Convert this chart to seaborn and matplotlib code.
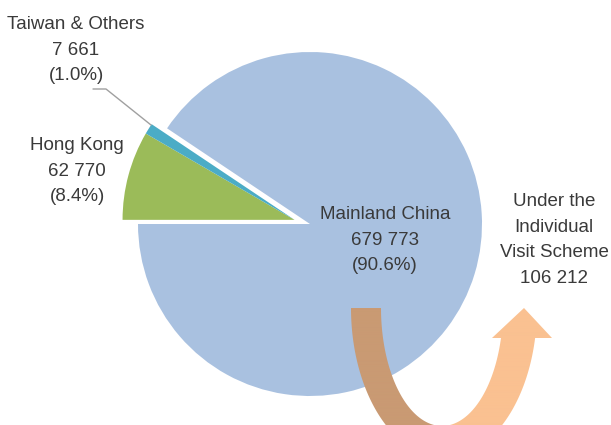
import matplotlib
matplotlib.use("Agg")
import matplotlib.pyplot as plt
import numpy as np
import seaborn as sns
from matplotlib.patches import Polygon
from matplotlib.colors import to_rgb

# dati: visitatori per provenienza
regioni = ["Hong Kong", "Taiwan & Others", "Mainland China"]
visitatori = [62770, 7661, 679773]
colori = ["#9BBB59", "#4BACC6", "#A9C1E0"]
ivs_testo = "Under the\nIndividual\nVisit Scheme"
ivs_valore = 106212

sns.set_theme(style="white")
plt.rcParams["font.family"] = ["Liberation Sans", "DejaVu Sans"]

W, H = 611, 425
CX, CY, R = 310, 224, 172  # centro e raggio della torta in pixel


def px(x, y):
    # da pixel (y verso il basso) a coordinate dati della torta
    return (np.asarray(x) - CX) / R, (CY - np.asarray(y)) / R


fig = plt.figure(figsize=(W / 100, H / 100), dpi=100)
ax = fig.add_axes([0, 0, 1, 1])

totale = sum(visitatori)
wedges, _ = ax.pie(visitatori, colors=colori, startangle=180, counterclock=False,
                   explode=[0.093, 0.093, 0], radius=1,
                   wedgeprops=dict(linewidth=0))
# Taiwan si sposta insieme a Hong Kong
wedges[1].set_center(wedges[0].center)

x0, y0 = px(0, H)
x1, y1 = px(W, 0)
ax.set_xlim(x0, x1)
ax.set_ylim(y0, y1)
ax.set_aspect("equal")
ax.axis("off")


def fmt(v):
    return f"{v:,}".replace(",", " ")


txt = dict(ha="center", va="center", fontsize=13.5, color="#3A3A3A", linespacing=1.62)
pos_label = {"Hong Kong": (77, 171), "Taiwan & Others": (76, 50), "Mainland China": (385, 240)}
for nome, v in zip(regioni, visitatori):
    etichetta = f"{nome}\n{fmt(v)}\n({100 * v / totale:.1f}%)"
    ax.text(*px(*pos_label[nome]), etichetta, **txt)

ax.text(*px(554, 240), f"{ivs_testo}\n{fmt(ivs_valore)}", fontsize=13.5, color="#3A3A3A",
        linespacing=1.68, ha="center", va="center")

# linea guida per Taiwan
lx, ly = px([93, 106, 151], [89, 89, 125])
ax.plot(lx, ly, color="#A0A0A0", lw=1)

# freccia curva (decorazione)
ao, bo, cxo = 93, 150, 444
ai, bi, cxi = 61, 118, 442
ytop, ybase = 308, 338
t_o = np.linspace(0, np.pi - np.arcsin((ybase - ytop) / bo), 120)
t_i = np.linspace(0, np.pi - np.arcsin((ybase - ytop) / bi), 120)[::-1]
xs = np.concatenate([cxo - ao * np.cos(t_o), [552, 524, 492], cxi - ai * np.cos(t_i)])
ys = np.concatenate([ytop + bo * np.sin(t_o), [ybase, ytop, ybase], ytop + bi * np.sin(t_i)])
poly = Polygon(np.column_stack(px(xs, ys)), closed=True, facecolor="none", edgecolor="none")
ax.add_patch(poly)

c1, c2 = np.array(to_rgb("#C99A73")), np.array(to_rgb("#FAC191"))
gx = np.linspace(340, 560, 440)
f = np.clip((gx - 434) / 12, 0, 1)[:, None]
grad = (c1 * (1 - f) + c2 * f)[None, :, :]
ex0, ey0 = px(340, 460)
ex1, ey1 = px(560, 300)
im = ax.imshow(grad, extent=[ex0, ex1, ey0, ey1], aspect="auto", zorder=3)
im.set_clip_path(poly)
ax.set_xlim(x0, x1)
ax.set_ylim(y0, y1)

fig.savefig("out.png", dpi=100)
